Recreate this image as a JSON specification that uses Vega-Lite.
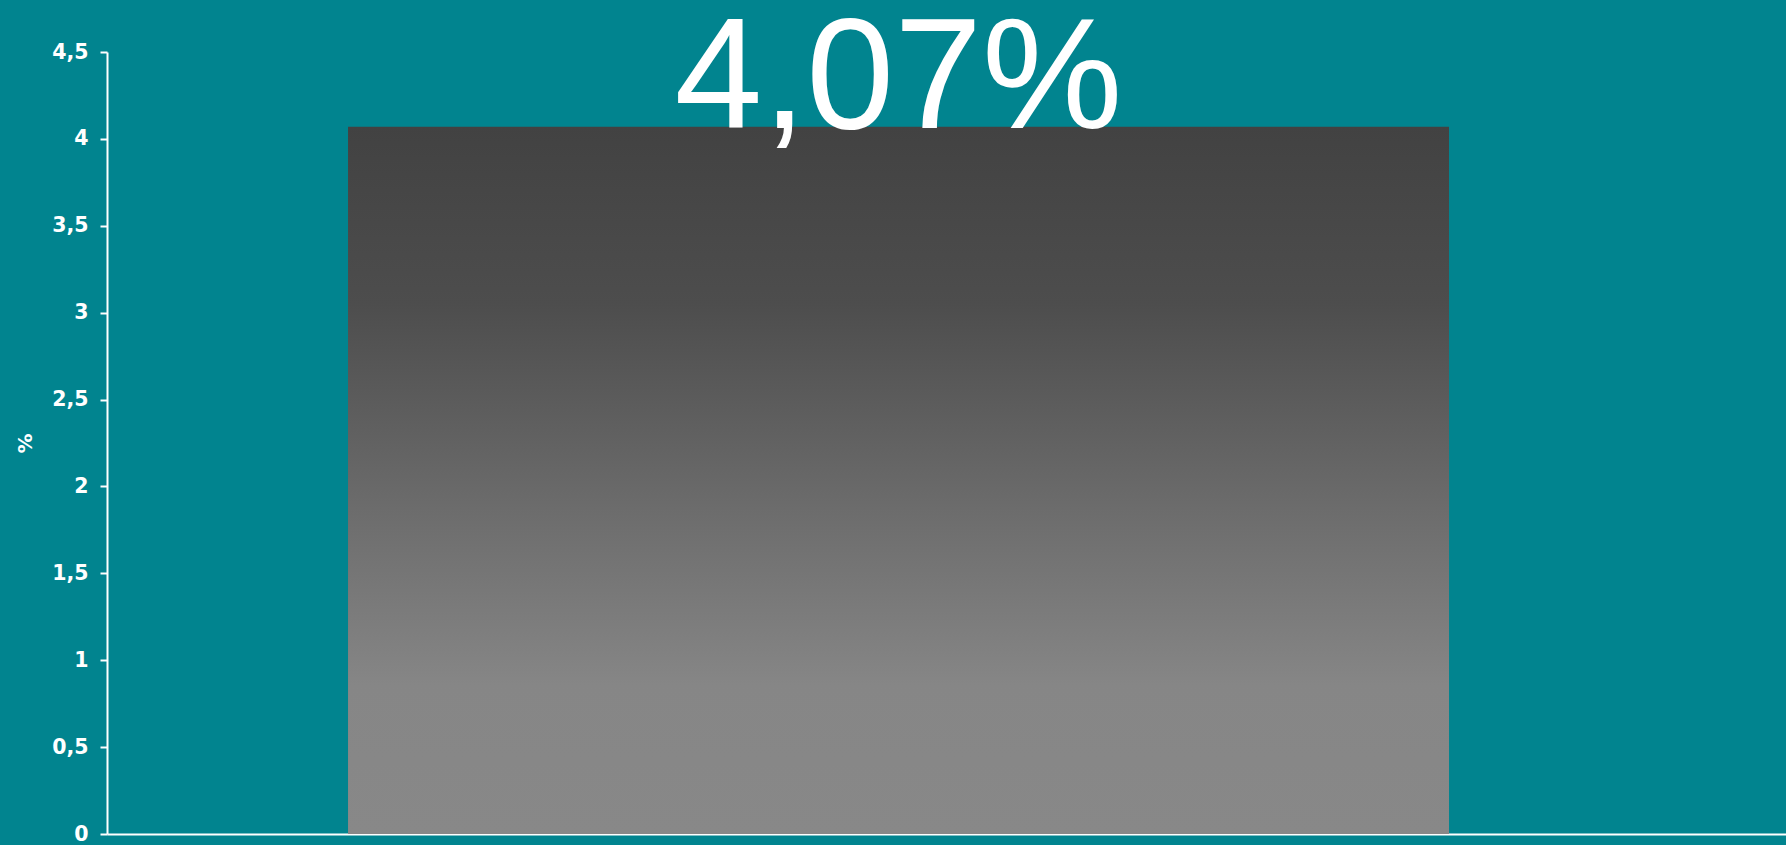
{
  "$schema": "https://vega.github.io/schema/vega-lite/v6.json",
  "autosize": "none",
  "width": 1679,
  "height": 782,
  "padding": {"left": 107, "top": 52, "right": 0, "bottom": 11},
  "background": "#01848F",
  "config": {
    "view": {"stroke": null},
    "font": "Liberation Sans"
  },
  "data": {"values": [{"category": "A", "value": 4.07, "label": "4,07%"}]},
  "encoding": {
    "x": {
      "field": "category",
      "type": "nominal",
      "scale": {"type": "band", "paddingInner": 0, "paddingOuter": 0.2625, "align": 0.417},
      "axis": {
        "title": null,
        "labels": false,
        "ticks": false,
        "domainColor": "#FFFFFF",
        "domainWidth": 2
      }
    },
    "y": {
      "field": "value",
      "type": "quantitative",
      "scale": {"domain": [0, 4.5], "nice": false},
      "axis": {
        "title": "%",
        "titleColor": "#FFFFFF",
        "titleFont": "DejaVu Sans",
        "titleFontSize": 20,
        "titleFontWeight": "bold",
        "titlePadding": 16,
        "values": [0, 0.5, 1, 1.5, 2, 2.5, 3, 3.5, 4, 4.5],
        "format": "~g",
        "labelExpr": "replace(datum.label, '.', ',')",
        "labelColor": "#FFFFFF",
        "labelFont": "DejaVu Sans",
        "labelFontSize": 20.5,
        "labelFontWeight": "bold",
        "labelPadding": 12,
        "tickColor": "#FFFFFF",
        "tickWidth": 2,
        "tickSize": 7,
        "domainColor": "#FFFFFF",
        "domainWidth": 2,
        "grid": false
      }
    }
  },
  "layer": [
    {
      "mark": {
        "type": "bar",
        "color": {
          "gradient": "linear",
          "x1": 0, "y1": 0, "x2": 0, "y2": 1,
          "stops": [
            {"offset": 0, "color": "#424242"},
            {"offset": 0.25, "color": "#4d4d4d"},
            {"offset": 0.55, "color": "#6d6d6d"},
            {"offset": 0.79, "color": "#868686"},
            {"offset": 1, "color": "#888888"}
          ]
        }
      }
    },
    {
      "mark": {
        "type": "text",
        "color": "#FFFFFF",
        "font": "Liberation Sans",
        "fontSize": 158,
        "align": "center",
        "baseline": "alphabetic",
        "dy": 1
      },
      "encoding": {"text": {"field": "label"}}
    }
  ]
}
